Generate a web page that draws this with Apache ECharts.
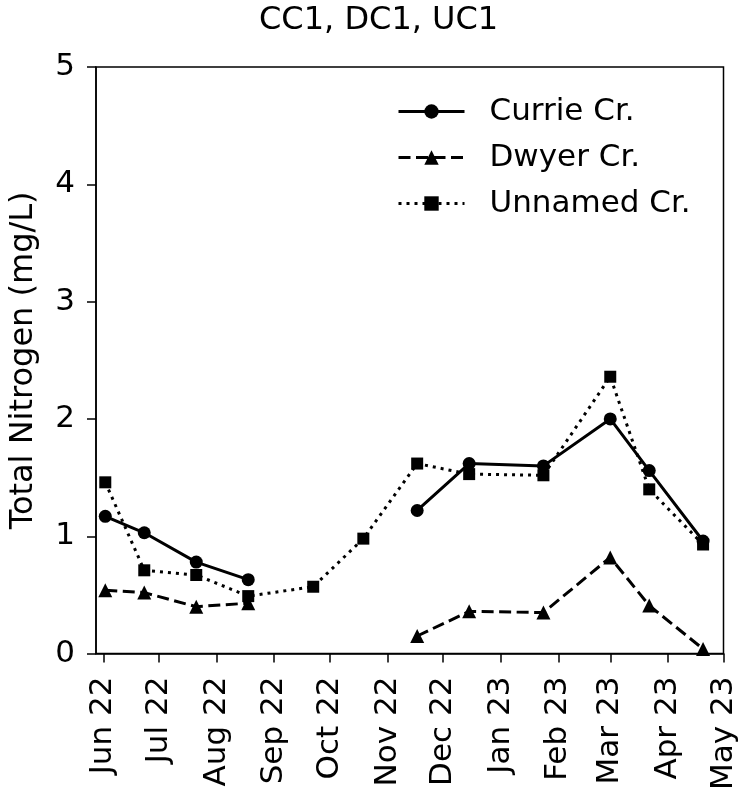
<!DOCTYPE html>
<html>
<head>
<meta charset="utf-8">
<script src="https://cdn.jsdelivr.net/npm/echarts@6/dist/echarts.min.js"></script>
<style>
  html, body { margin: 0; padding: 0; background: #fff; }
  #chart { width: 739px; height: 793px; }
</style>
</head>
<body>
<div id="chart"></div>
<script>
// sampling dates (one per survey)
var dates = ['2022-06-02', '2022-06-23', '2022-07-21', '2022-08-18', '2022-09-22', '2022-10-19',
  '2022-11-17', '2022-12-15', '2023-01-24', '2023-03-01', '2023-03-22', '2023-04-20'];
// total nitrogen, mg/L (null = not sampled)
var currie = [1.17, 1.03, 0.78, 0.63, null, null, 1.22, 1.62, 1.60, 2.00, 1.56, 0.96];
var dwyer = [0.54, 0.52, 0.40, 0.43, null, null, 0.15, 0.36, 0.35, 0.82, 0.41, 0.04];
var unnamed = [1.46, 0.71, 0.67, 0.49, 0.57, 0.98, 1.62, 1.53, 1.52, 2.36, 1.40, 0.93];
// month ticks
var tickMonths = ['2022-06-01', '2022-07-01', '2022-08-01', '2022-09-01', '2022-10-01', '2022-11-01',
  '2022-12-01', '2023-01-01', '2023-02-01', '2023-03-01', '2023-04-01', '2023-05-01'];

var monthNames = ['Jan', 'Feb', 'Mar', 'Apr', 'May', 'Jun', 'Jul', 'Aug', 'Sep', 'Oct', 'Nov', 'Dec'];

// days since 2022-01-01 (UTC), used as x value
var DAY = 86400000;
var origin = Date.UTC(2022, 0, 1);
function toDay(s) {
  var p = s.split('-');
  return (Date.UTC(+p[0], +p[1] - 1, +p[2]) - origin) / DAY;
}

function pairs(vals) {
  return dates.map(function (d, i) { return [toDay(d), vals[i]]; });
}

var tickDays = tickMonths.map(toDay);
var font = 'DejaVu Sans';

var chart = echarts.init(document.getElementById('chart'));
chart.setOption({
  animation: false,
  backgroundColor: '#fff',
  textStyle: { fontFamily: font },
  title: {
    text: 'CC1, DC1, UC1',
    left: 254,
    top: 0,
    textStyle: { fontFamily: font, fontSize: 32, fontWeight: 'normal', color: '#000' }
  },
  legend: {
    left: 392,
    top: 91,
    orient: 'vertical',
    itemWidth: 66,
    itemHeight: 18,
    itemGap: 15,
    lineStyle: { width: 3 },
    textStyle: { fontFamily: font, fontSize: 31, lineHeight: 31, color: '#000', padding: [0, 0, 0, 20] },
    data: ['Currie Cr.', 'Dwyer Cr.', 'Unnamed Cr.']
  },
  grid: {
    left: 94,
    right: 15,
    top: 67,
    bottom: 139,
    show: true,
    borderColor: '#000',
    borderWidth: 1.5,
    containLabel: false
  },
  xAxis: {
    type: 'value',
    min: toDay('2022-05-28'),
    max: toDay('2023-05-01'),
    axisLine: { lineStyle: { color: '#000', width: 1.5 } },
    splitLine: { show: false },
    axisTick: {
      show: true,
      length: 9,
      lineStyle: { color: '#000', width: 1.5 },
      customValues: tickDays
    },
    axisLabel: {
      rotate: 90,
      margin: 23,
      fontSize: 31,
      color: '#000',
      fontFamily: font,
      customValues: tickDays,
      formatter: function (v) {
        var d = new Date(origin + Math.round(v) * DAY);
        return monthNames[d.getUTCMonth()] + ' ' + String(d.getUTCFullYear()).slice(2);
      }
    }
  },
  yAxis: {
    type: 'value',
    min: 0,
    max: 5,
    interval: 1,
    name: 'Total Nitrogen (mg/L)',
    nameLocation: 'middle',
    nameGap: 56,
    nameTextStyle: { fontFamily: font, fontSize: 32, color: '#000' },
    axisLine: { show: true, lineStyle: { color: '#000', width: 1.5 } },
    splitLine: { show: false },
    axisTick: { show: true, length: 9, lineStyle: { color: '#000', width: 1.5 } },
    axisLabel: { margin: 21, fontSize: 31, color: '#000', fontFamily: font }
  },
  series: [
    {
      name: 'Currie Cr.',
      type: 'line',
      data: pairs(currie),
      connectNulls: false,
      symbol: 'circle',
      symbolSize: 13,
      showAllSymbol: true,
      itemStyle: { color: '#000' },
      lineStyle: { color: '#000', width: 3, type: 'solid' },
      z: 3
    },
    {
      name: 'Dwyer Cr.',
      type: 'line',
      data: pairs(dwyer),
      connectNulls: false,
      symbol: 'triangle',
      symbolSize: 14,
      showAllSymbol: true,
      itemStyle: { color: '#000' },
      lineStyle: { color: '#000', width: 3, type: [12, 5.5] },
      z: 2
    },
    {
      name: 'Unnamed Cr.',
      type: 'line',
      data: pairs(unnamed),
      symbol: 'rect',
      symbolSize: 12,
      showAllSymbol: true,
      itemStyle: { color: '#000' },
      lineStyle: { color: '#000', width: 3, type: [3, 5] },
      z: 1
    }
  ]
});
</script>
</body>
</html>
